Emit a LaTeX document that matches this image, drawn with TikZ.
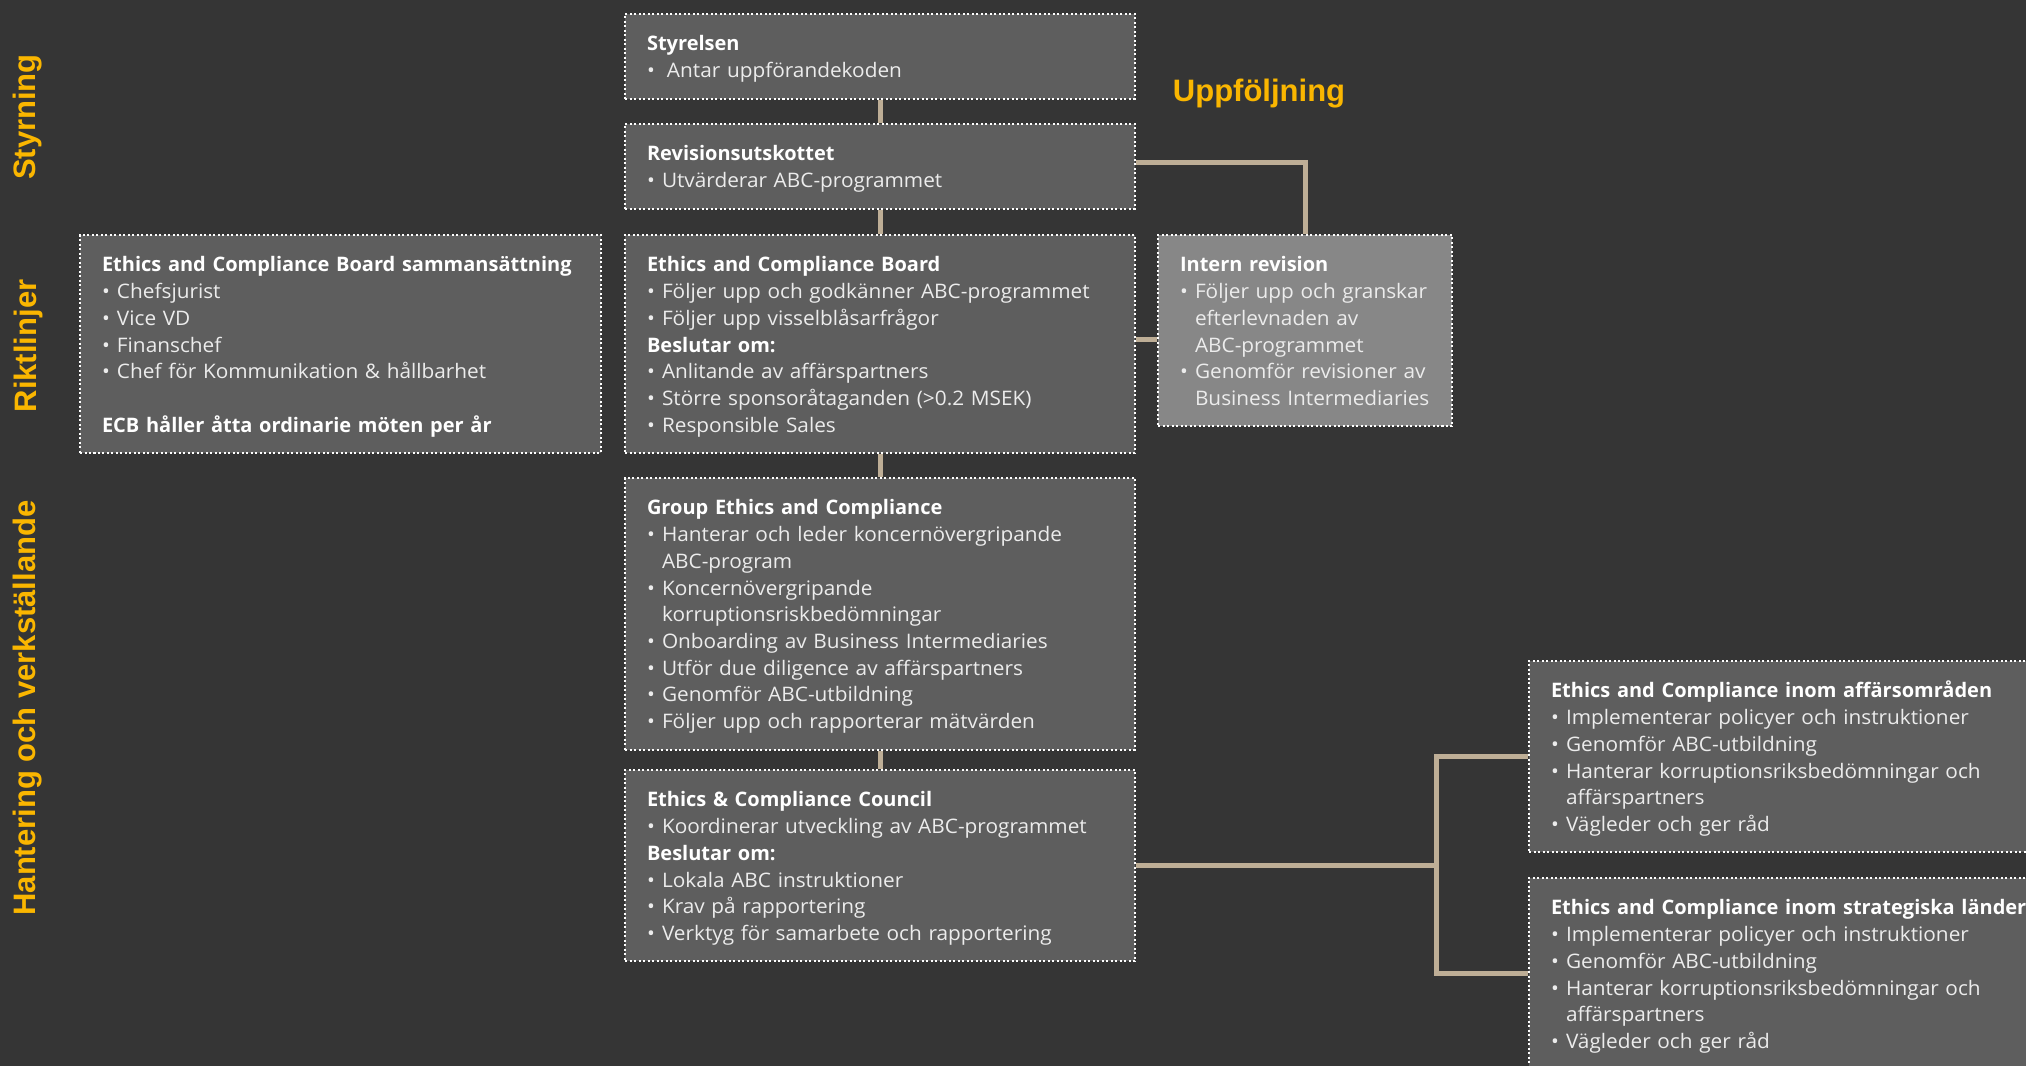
\documentclass[tikz,border=0pt]{standalone}
\usepackage{fontspec}
\setmainfont{Open Sans}[FakeStretch=1.04]
\newfontfamily\titlefont{Open Sans}
\newfontfamily\lanefont{Liberation Sans}
\usetikzlibrary{
    calc,
    positioning
}
\definecolor{canvas}{RGB}{53,53,53}
\definecolor{panel}{RGB}{94,94,94}
\definecolor{auditpanel}{RGB}{135,135,135}
\definecolor{linkcol}{RGB}{190,174,150}
\definecolor{accent}{RGB}{250,182,0}
\definecolor{bodytext}{RGB}{236,236,236}

\newcommand{\boxfont}{\fontsize{0.2cm}{0.267cm}\selectfont}
\newcommand{\lnstrut}{\rule[-0.05cm]{0pt}{0.26cm}}
\newcommand{\bulletmark}{\makebox[0.15cm][l]{•}}
\newcommand{\unittitle}[1]{\lnstrut\mbox{\titlefont\bfseries\color{white}#1}}
\newcommand{\unititem}[1]{\lnstrut\bulletmark\mbox{#1}}
\newcommand{\unitcont}[1]{\lnstrut\hspace*{0.15cm}\mbox{#1}}

\tikzset{
    line cap=butt,
    unit/.style={
        rectangle,
        anchor=north west,
        draw=white,
        line width=0.02cm,
        dash pattern=on 0.02cm off 0.025cm,
        fill=panel,
        text=bodytext,
        align=left,
        inner xsep=0.22cm,
        inner ysep=0.16cm,
        font=\boxfont
    },
    audit/.style={unit, fill=auditpanel},
    lane/.style={
        font=\lanefont\bfseries\fontsize{0.31cm}{0.37cm}\selectfont,
        text=accent,
        inner sep=0pt
    },
    link/.style={
        draw=linkcol,
        line width=0.05cm
    }
}

\begin{document}
\begin{tikzpicture}
    \useasboundingbox (0,0) rectangle (20.26,-10.66);
    \fill[canvas] (0,0) rectangle (20.26,-10.66);

    % Lane labels
    \node[lane, rotate=90] (lblstyr) at (0.28,-1.17) {Styrning};
    \node[lane, rotate=90] (lblrikt) at (0.28,-3.46) {Riktlinjer};
    \node[lane, rotate=90] (lblhant) at (0.28,-7.08) {Hantering och verkställande};
    \node[lane, anchor=base] (lbluppf) at (12.59,-1.02) {Uppföljning};

    % Main column
    \node[unit, text width=4.66cm] (styrelsen) at (6.24,-0.13) {%
        \unittitle{Styrelsen}\\
        \unititem{\hspace{0.05cm}Antar uppförandekoden}};
    \node[unit, text width=4.66cm] (revision) at (6.24,-1.23) {%
        \unittitle{Revisionsutskottet}\\
        \unititem{Utvärderar ABC-programmet}};
    \node[unit, text width=4.66cm] (ecb) at (6.24,-2.34) {%
        \unittitle{Ethics and Compliance Board}\\
        \unititem{Följer upp och godkänner ABC-programmet}\\
        \unititem{Följer upp visselblåsarfrågor}\\
        \unittitle{Beslutar om:}\\
        \unititem{Anlitande av affärspartners}\\
        \unititem{Större sponsoråtaganden (>0.2 MSEK)}\\
        \unititem{Responsible Sales}};
    \node[unit, text width=4.66cm] (gec) at (6.24,-4.77) {%
        \unittitle{Group Ethics and Compliance}\\
        \unititem{Hanterar och leder koncernövergripande}\\
        \unitcont{ABC-program}\\
        \unititem{Koncernövergripande}\\
        \unitcont{korruptionsriskbedömningar}\\
        \unititem{Onboarding av Business Intermediaries}\\
        \unititem{Utför due diligence av affärspartners}\\
        \unititem{Genomför ABC-utbildning}\\
        \unititem{Följer upp och rapporterar mätvärden}};
    \node[unit, text width=4.66cm] (council) at (6.24,-7.69) {%
        \unittitle{Ethics \& Compliance Council}\\
        \unititem{Koordinerar utveckling av ABC-programmet}\\
        \unittitle{Beslutar om:}\\
        \unititem{Lokala ABC instruktioner}\\
        \unititem{Krav på rapportering}\\
        \unititem{Verktyg för samarbete och rapportering}};

    % Side boxes
    \node[unit, text width=4.77cm] (ecbmembers) at (0.79,-2.34) {%
        \unittitle{Ethics and Compliance Board sammansättning}\\
        \unititem{Chefsjurist}\\
        \unititem{Vice VD}\\
        \unititem{Finanschef}\\
        \unititem{Chef för Kommunikation \& hållbarhet}\\
        \lnstrut\\
        \unittitle{ECB håller åtta ordinarie möten per år}};
    \node[audit, text width=2.50cm] (intern) at (11.57,-2.34) {%
        \unittitle{Intern revision}\\
        \unititem{Följer upp och granskar}\\
        \unitcont{efterlevnaden av}\\
        \unitcont{ABC-programmet}\\
        \unititem{Genomför revisioner av}\\
        \unitcont{Business Intermediaries}};
    \node[unit, text width=5.2cm] (bizarea) at (15.28,-6.60) {%
        \unittitle{Ethics and Compliance inom affärsområden}\\
        \unititem{Implementerar policyer och instruktioner}\\
        \unititem{Genomför ABC-utbildning}\\
        \unititem{Hanterar korruptionsriksbedömningar och}\\
        \unitcont{affärspartners}\\
        \unititem{Vägleder och ger råd}};
    \node[unit, text width=5.2cm] (strategic) at (15.28,-8.77) {%
        \unittitle{Ethics and Compliance inom strategiska länder}\\
        \unititem{Implementerar policyer och instruktioner}\\
        \unititem{Genomför ABC-utbildning}\\
        \unititem{Hanterar korruptionsriksbedömningar och}\\
        \unitcont{affärspartners}\\
        \unititem{Vägleder och ger råd}};

    % Connectors
    \draw[link] (styrelsen.south) -- (revision.north);
    \draw[link] (revision.south) -- (ecb.north);
    \draw[link] (ecb.south) -- (gec.north);
    \draw[link] (gec.south) -- (council.north);
    \draw[link] ([yshift=0.04cm]revision.east) -| (intern.north);
    \draw[link] ([yshift=0.045cm]ecb.east) -- ([yshift=0.045cm]ecb.east -| intern.west);
    \coordinate[right=3.0cm of council.east] (fork);
    \draw[link] (council.east) -- (fork);
    \draw[link] (bizarea.west) -| (fork) |- (strategic.west);
\end{tikzpicture}
\end{document}
